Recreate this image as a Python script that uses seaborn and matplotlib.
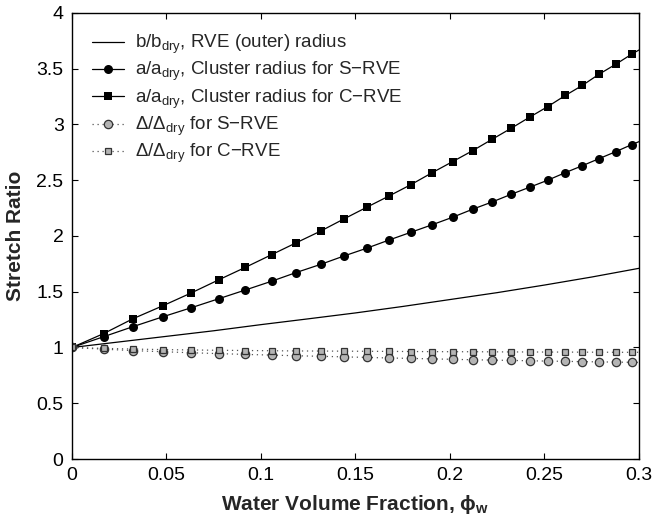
import numpy as np
import matplotlib
matplotlib.use("Agg")
import matplotlib.pyplot as plt
import seaborn as sns
from matplotlib.ticker import FuncFormatter, MultipleLocator

# values
phi_w = [0.0, 0.0168, 0.0323, 0.0482, 0.0632, 0.0778, 0.0918, 0.1056, 0.1184,
         0.1317, 0.1438, 0.1559, 0.1678, 0.1793, 0.1903, 0.2014, 0.2120, 0.2223,
         0.2324, 0.2421, 0.2517, 0.2610, 0.2700, 0.2788, 0.2877, 0.2961, 0.30]
a_srve = [1.0, 1.097, 1.187, 1.276, 1.357, 1.438, 1.516, 1.594, 1.671, 1.746,
          1.820, 1.890, 1.964, 2.033, 2.099, 2.168, 2.240, 2.305, 2.374, 2.437,
          2.500, 2.568, 2.630, 2.693, 2.756, 2.819, 2.846]
a_crve = [1.0, 1.125, 1.258, 1.375, 1.490, 1.608, 1.719, 1.832, 1.937, 2.045,
          2.152, 2.257, 2.359, 2.460, 2.565, 2.667, 2.765, 2.867, 2.966, 3.065,
          3.160, 3.260, 3.350, 3.450, 3.540, 3.630, 3.668]
d_srve = [1.0, 0.985, 0.972, 0.962, 0.953, 0.945, 0.938, 0.932, 0.926, 0.921,
          0.916, 0.911, 0.906, 0.902, 0.898, 0.894, 0.890, 0.887, 0.884, 0.881,
          0.878, 0.876, 0.873, 0.871, 0.869, 0.867, 0.866]
d_crve = [1.0, 0.992, 0.986, 0.981, 0.978, 0.975, 0.973, 0.971, 0.969, 0.968,
          0.967, 0.966, 0.965, 0.964, 0.963, 0.962, 0.962, 0.961, 0.960, 0.960,
          0.959, 0.959, 0.958, 0.958, 0.957, 0.957, 0.957]

phi_b = [0.0, 0.025, 0.05, 0.075, 0.1, 0.125, 0.15, 0.175, 0.2, 0.225, 0.25, 0.275, 0.3]
b_rve = [1.0, 1.05, 1.10, 1.15, 1.205, 1.257, 1.31, 1.368, 1.43, 1.492, 1.56, 1.632, 1.71]

sns.set_style("ticks")
plt.rcParams["font.family"] = ["Liberation Sans", "DejaVu Sans"]
plt.rcParams["mathtext.fontset"] = "custom"
plt.rcParams["mathtext.rm"] = "Liberation Sans"
plt.rcParams["mathtext.it"] = "Liberation Sans:italic"
plt.rcParams["mathtext.bf"] = "Liberation Sans:bold"

fig, ax = plt.subplots(figsize=(6.54, 5.19), dpi=100)
fig.subplots_adjust(left=0.110, right=0.977, top=0.975, bottom=0.1156)

marks = list(range(26))
grey = "#b4b4b4"

sns.lineplot(x=phi_b, y=b_rve, ax=ax, color="k", lw=0.9,
             label=r"b/b$_{\mathrm{dry}}$, RVE (outer) radius")
sns.lineplot(x=phi_w, y=a_srve, ax=ax, color="k", lw=0.9, marker="o",
             markersize=6.5, markeredgewidth=0, markevery=marks,
             label=r"a/a$_{\mathrm{dry}}$, Cluster radius for S−RVE")
sns.lineplot(x=phi_w, y=a_crve, ax=ax, color="k", lw=0.9, marker="s",
             markersize=5.2, markeredgewidth=0, markevery=marks,
             label=r"a/a$_{\mathrm{dry}}$, Cluster radius for C−RVE")
sns.lineplot(x=phi_w, y=d_srve, ax=ax, color="#555555", lw=0.9,
             linestyle=(0, (1, 3)),
             marker="o", markersize=6, markerfacecolor=grey,
             markeredgecolor="#333333", markeredgewidth=0.9, markevery=marks,
             label=r"Δ/Δ$_{\mathrm{dry}}$ for S−RVE")
sns.lineplot(x=phi_w, y=d_crve, ax=ax, color="#555555", lw=0.9,
             linestyle=(0, (1, 3)),
             marker="s", markersize=4.8, markerfacecolor=grey,
             markeredgecolor="#333333", markeredgewidth=0.9, markevery=marks,
             label=r"Δ/Δ$_{\mathrm{dry}}$ for C−RVE")

ax.set_xlim(0, 0.3)
ax.set_ylim(0, 4)
ax.xaxis.set_major_locator(MultipleLocator(0.05))
ax.yaxis.set_major_locator(MultipleLocator(0.5))
fmt = FuncFormatter(lambda v, p: f"{v:g}")
ax.xaxis.set_major_formatter(fmt)
ax.yaxis.set_major_formatter(fmt)
ax.tick_params(direction="in", length=4, width=0.8, top=True, right=True,
               labelsize=14, colors="k", pad=6)
for s in ax.spines.values():
    s.set_visible(True)
    s.set_linewidth(1.0)
    s.set_color("k")

ax.set_xlabel(r"Water Volume Fraction, $\mathbf{\phi_w}$", fontsize=15,
              fontweight="bold", labelpad=6)
ax.set_ylabel("Stretch Ratio", fontsize=15, fontweight="bold", labelpad=8)

ax.legend(loc="upper left", bbox_to_anchor=(0.005, 0.993), frameon=False,
          fontsize=13.5, handlelength=1.75, handletextpad=0.55, labelspacing=0.22)

fig.savefig("out.png", dpi=100)
